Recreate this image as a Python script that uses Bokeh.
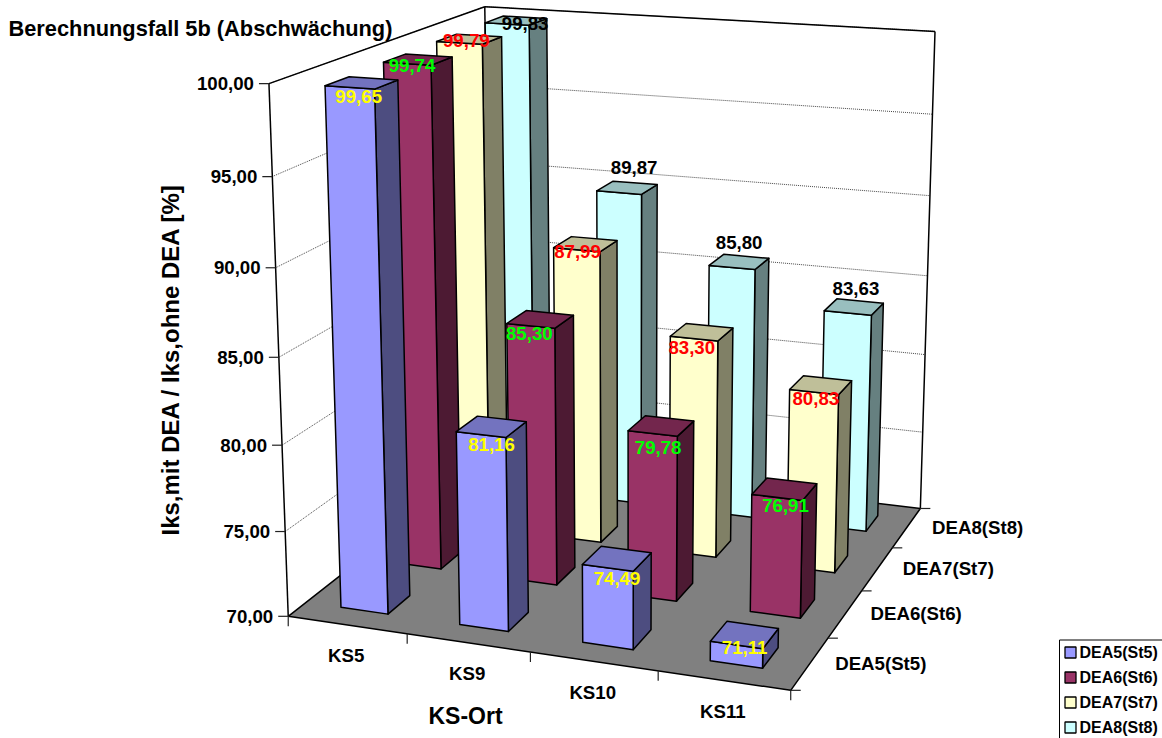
import numpy as np
from bokeh.plotting import figure
from bokeh.models import Range1d, ColumnDataSource
from bokeh.core.properties import value
from bokeh.embed import file_html
from bokeh.resources import INLINE

# ---- data ----
categories = ["KS5", "KS9", "KS10", "KS11"]
series_names = ["DEA5(St5)", "DEA6(St6)", "DEA7(St7)", "DEA8(St8)"]
dea5 = [99.65, 81.16, 74.49, 71.11]
dea6 = [99.74, 85.30, 79.78, 76.91]
dea7 = [99.79, 87.99, 83.30, 80.83]
dea8 = [99.83, 89.87, 85.80, 83.63]
z_ticks = [70, 75, 80, 85, 90, 95, 100]
title = "Berechnungsfall 5b (Abschwächung)"
y_title = "Iks,mit DEA / Iks,ohne DEA [%]"
x_title = "KS-Ort"

series = [dea5, dea6, dea7, dea8]

# ---- styles ----
front = ["#9999FF", "#993366", "#FFFFCC", "#CCFFFF"]
side = ["#4D4D80", "#4D1A33", "#808066", "#668080"]
top = ["#7373BF", "#73264D", "#BFBF99", "#99BFBF"]
label_color = ["#FFFF00", "#00FF00", "#FF0000", "#000000"]
FONT = value("Liberation Sans")
W, H = 1162, 738
GAP, BAR = 0.3, 0.4

# label offsets in pixels from the projected bar-top centre
label_off = [
    [(-3, 14), (0, 18), (0, 20), (0, 13)],
    [(-6, 6), (-11, 14), (-3, 22), (1, 16)],
    [(-3, 1), (-8, 7), (-10, 15), (-5, 13)],
    [(9, 3), (7, -20), (0, -19), (2, -18)],
]

# ---- projective camera calibrated on the chart frame ----
calib = [
    ((0, 0, 100), (268.5, 83)), ((0, 0, 95), (272, 176)), ((0, 0, 90), (276, 267)),
    ((0, 0, 85), (278.5, 357)), ((0, 0, 80), (281, 445)), ((0, 0, 75), (284.7, 531)),
    ((0, 0, 70), (288, 616)), ((1, 0, 70), (406, 633)), ((2, 0, 70), (530, 652)),
    ((3, 0, 70), (657, 670)), ((4, 0, 70), (790, 690)), ((4, 1, 70), (827, 638)),
    ((4, 2, 70), (862, 590)), ((4, 3, 70), (893, 546)), ((4, 4, 70), (920, 508)),
    ((4, 4, 100), (935, 30)), ((4, 4, 95), (932, 114)), ((4, 4, 90), (929, 196)),
    ((4, 4, 85), (926, 276)), ((4, 4, 75), (922, 432)), ((0, 4, 100), (484, 6)),
]
rows = []
for (x, y, z), (u, v) in calib:
    q = [x, y, (z - 70) / 30, 1]
    rows.append(q + [0, 0, 0, 0] + [-u * a for a in q])
    rows.append([0, 0, 0, 0] + q + [-v * a for a in q])
M = np.linalg.svd(np.array(rows, float))[2][-1].reshape(3, 4)


def proj(x, y, z):
    r = M @ np.array([x, y, (z - 70) / 30, 1.0])
    return r[0] / r[2], r[1] / r[2]


p = figure(width=W, height=H, output_backend="svg", toolbar_location=None,
           x_range=Range1d(0, W), y_range=Range1d(H, 0), min_border=0,
           outline_line_color=None, x_axis_type=None, y_axis_type=None)
p.grid.visible = False


def line(a, b, color="black", **kw):
    ua, va = proj(*a)
    ub, vb = proj(*b)
    p.line([ua, ub], [va, vb], line_color=color, **kw)


def tri(*pts):
    return [proj(*q)[0] for q in pts], [proj(*q)[1] for q in pts]


# floor
fx, fy = tri((0, 0, 70), (4, 0, 70), (4, 4, 70), (0, 4, 70))
p.patch(fx, fy, fill_color="#808080", line_color="black", line_width=1.5)

# gridlines on the walls
for z in z_ticks[1:]:
    line((0, 0, z), (0, 4, z), color="#333333", line_dash="1 1", line_width=0.9)
    line((0, 4, z), (4, 4, z), color="#333333", line_dash="1 1", line_width=0.9)

# wall frame
line((0, 0, 70), (0, 0, 100), line_width=1.5)
line((0, 0, 100), (0, 4, 100), line_width=1.5)
line((0, 4, 100), (4, 4, 100), line_width=1.5)
line((4, 4, 100), (4, 4, 70), line_width=1.5)
line((0, 4, 100), (0, 4, 70), line_width=1.5)

# ticks and tick labels
for z in z_ticks:
    u, v = proj(0, 0, z)
    p.line([u - 10, u], [v, v], line_color="#222222", line_width=1.2)
    p.text([u - 15], [v], text=[f"{z},00"], text_align="right",
           text_baseline="middle", text_font=FONT, text_font_style="bold",
           text_font_size="18.67px", text_color="black")
for i in range(5):
    u, v = proj(i, 0, 70)
    p.line([u, u], [v, v + 10], line_color="#222222", line_width=1.2)
    u, v = proj(4, i, 70)
    p.line([u, u + 10], [v, v], line_color="#222222", line_width=1.2)
for i, c in enumerate(categories):
    u, v = proj(i + 0.5, 0, 70)
    p.text([u - 1], [v + 31], text=[c], text_align="center", text_baseline="middle",
           text_font=FONT, text_font_style="bold", text_font_size="18.67px", text_color="black")
for j, s in enumerate(series_names):
    u, v = proj(4, j + 0.5, 70)
    p.text([u + 71], [v], text=[s], text_align="center", text_baseline="middle",
           text_font=FONT, text_font_style="bold", text_font_size="18.67px", text_color="black")

# bars, painted back to front
xs, ys, fills = [], [], []
for j in range(3, -1, -1):
    for i in range(4):
        val = series[j][i]
        x0, x1 = i + GAP, i + GAP + BAR
        y0, y1 = j + GAP, j + GAP + BAR
        faces = [
            (((x1, y0, 70), (x1, y1, 70), (x1, y1, val), (x1, y0, val)), side[j]),
            (((x0, y0, 70), (x1, y0, 70), (x1, y0, val), (x0, y0, val)), front[j]),
            (((x0, y0, val), (x1, y0, val), (x1, y1, val), (x0, y1, val)), top[j]),
        ]
        for pts, col in faces:
            a, b = tri(*pts)
            xs.append(a)
            ys.append(b)
            fills.append(col)
p.patches("xs", "ys", source=ColumnDataSource(dict(xs=xs, ys=ys, fill=fills)),
          fill_color="fill", line_color="black", line_width=1.5, line_join="round")

# value labels
for j in range(4):
    for i in range(4):
        val = series[j][i]
        u, v = proj(i + 0.5, j + 0.5, val)
        dx, dy = label_off[j][i]
        p.text([u + dx], [v + dy], text=[f"{val:.2f}".replace(".", ",")], text_align="center",
               text_baseline="middle", text_font=FONT, text_font_style="bold",
               text_font_size="18.67px", text_color=label_color[j])

# titles
p.text([8], [27.5], text=[title], text_baseline="middle", text_font=FONT, text_font_style="bold",
       text_font_size="21.8px", text_color="black")
p.text([170], [359], text=[y_title], angle=[np.pi / 2], text_align="center", text_baseline="middle",
       text_font=FONT, text_font_style="bold", text_font_size="24px", text_color="black")
p.text([465], [715], text=[x_title], text_align="center", text_baseline="middle",
       text_font=FONT, text_font_style="bold", text_font_size="23px", text_color="black")

# legend
p.line([1059, 1059, W + 5], [H + 5, 639.5, 639.5], line_color="black", line_width=1)
for j, s in enumerate(series_names):
    yc = 652 + 25 * j
    p.rect([1070], [yc], width=11, height=11, fill_color=front[j], line_color="black", line_width=1.3)
    p.text([1079], [yc], text=[s], text_baseline="middle", text_font=FONT, text_font_style="bold",
           text_font_size="16px", text_color="black")

open("out.html", "w").write(file_html(p, INLINE))
